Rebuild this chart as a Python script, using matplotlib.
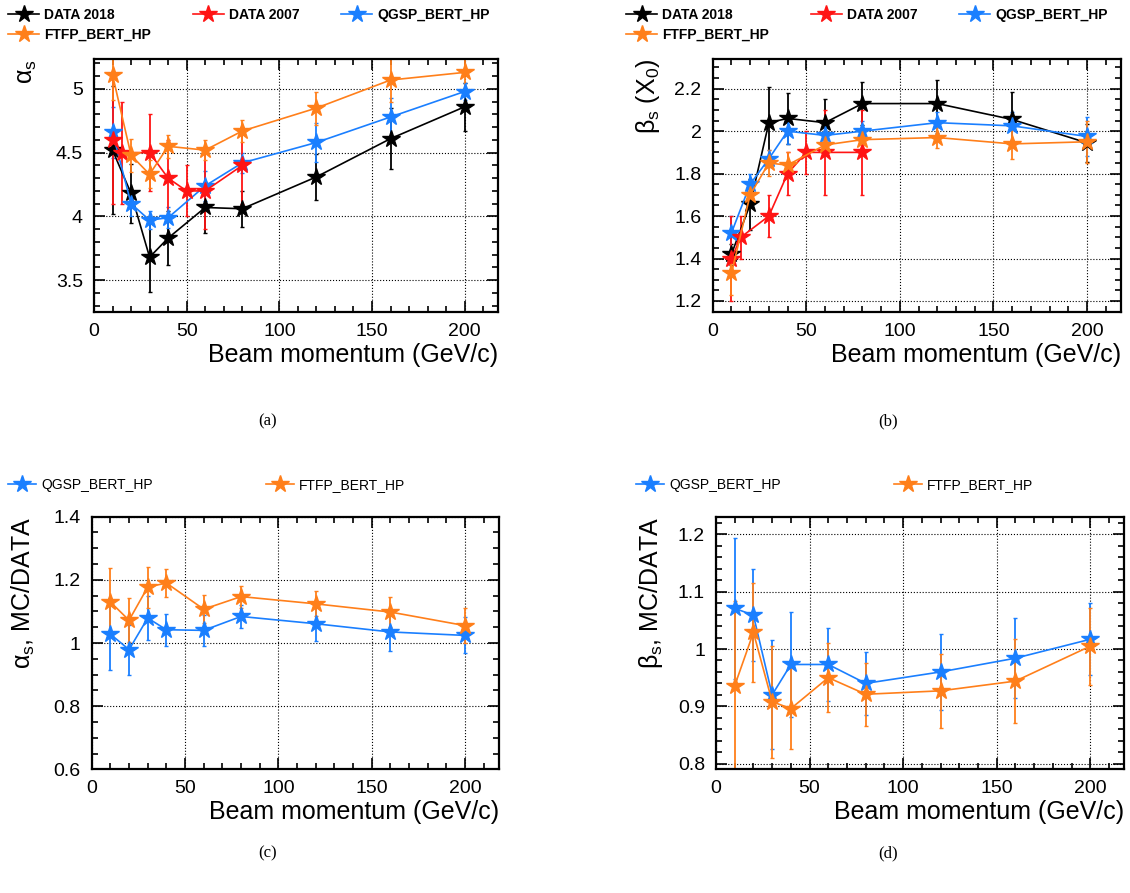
import matplotlib
matplotlib.use('Agg')
import matplotlib.pyplot as plt
from matplotlib.ticker import MultipleLocator, FuncFormatter

# DATA

P_MC = [10, 20, 30, 40, 60, 80, 120, 160, 200]
P_2007 = [10, 15, 30, 40, 50, 60, 80]

ALPHA_2018 = [4.52, 4.18, 3.68, 3.83, 4.07, 4.06, 4.31, 4.61, 4.86]
ALPHA_2018_ERR = [0.50, 0.23, 0.27, 0.21, 0.20, 0.14, 0.18, 0.24, 0.19]
ALPHA_2007 = [4.6, 4.5, 4.5, 4.3, 4.2, 4.2, 4.4]
ALPHA_2007_ERR = [0.5, 0.4, 0.3, 0.3, 0.2, 0.3, 0.3]
ALPHA_QGSP = [4.66, 4.10, 3.97, 3.99, 4.24, 4.42, 4.58, 4.78, 4.98]
ALPHA_QGSP_ERR = [0.20, 0.10, 0.07, 0.08, 0.12, 0.08, 0.15, 0.15, 0.07]
ALPHA_FTFP = [5.11, 4.48, 4.33, 4.55, 4.52, 4.67, 4.85, 5.07, 5.13]
ALPHA_FTFP_ERR = [0.20, 0.13, 0.11, 0.09, 0.08, 0.09, 0.13, 0.17, 0.12]

BETA_2018 = [1.42, 1.655, 2.04, 2.06, 2.04, 2.13, 2.13, 2.055, 1.945]
BETA_2018_ERR = [0.05, 0.12, 0.17, 0.12, 0.11, 0.10, 0.11, 0.13, 0.09]
BETA_2007 = [1.4, 1.5, 1.6, 1.8, 1.9, 1.9, 1.9]
BETA_2007_ERR = [0.2, 0.1, 0.1, 0.1, 0.1, 0.2, 0.2]
BETA_QGSP = [1.52, 1.75, 1.87, 2.0, 1.98, 2.0, 2.04, 2.025, 1.975]
BETA_QGSP_ERR = [0.08, 0.05, 0.04, 0.06, 0.05, 0.05, 0.05, 0.065, 0.09]
BETA_FTFP = [1.33, 1.70, 1.85, 1.84, 1.935, 1.96, 1.97, 1.94, 1.95]
BETA_FTFP_ERR = [0.10, 0.05, 0.06, 0.06, 0.04, 0.05, 0.05, 0.07, 0.10]

RA_QGSP = [1.028, 0.979, 1.079, 1.042, 1.04, 1.084, 1.061, 1.035, 1.024]
RA_QGSP_ERR = [0.115, 0.079, 0.07, 0.05, 0.05, 0.035, 0.055, 0.06, 0.057]
RA_FTFP = [1.13, 1.072, 1.177, 1.19, 1.107, 1.147, 1.124, 1.098, 1.055]
RA_FTFP_ERR = [0.108, 0.07, 0.065, 0.044, 0.045, 0.035, 0.04, 0.047, 0.055]

RB_QGSP = [1.071, 1.059, 0.92, 0.973, 0.973, 0.94, 0.96, 0.984, 1.017]
RB_QGSP_ERR = [0.123, 0.08, 0.095, 0.091, 0.063, 0.055, 0.066, 0.07, 0.063]
RB_FTFP = [0.936, 1.029, 0.908, 0.896, 0.95, 0.921, 0.927, 0.944, 1.005]
RB_FTFP_ERR = [0.147, 0.086, 0.098, 0.07, 0.06, 0.055, 0.065, 0.073, 0.067]

# STYLE

C_2018 = 'black'
C_2007 = '#ff1414'
C_QGSP = '#1a7fff'
C_FTFP = '#ff7f1a'
X_LIM = [0, 218]
TICK_FS = 14
LABEL_FS = 18

plt.rcParams['font.family'] = ['Liberation Sans', 'DejaVu Sans']
plt.rcParams['mathtext.fontset'] = 'custom'
plt.rcParams['mathtext.rm'] = 'Liberation Sans'
plt.rcParams['mathtext.it'] = 'Liberation Sans'

fig = plt.figure(figsize=(11.3, 8.93), dpi=100)

POS = {
    'a': [94/1130, 1-312/893, 404/1130, 253/893],
    'b': [712.7/1130, 1-312/893, 408/1130, 253/893],
    'c': [91.7/1130, 1-769.3/893, 407/1130, 252.6/893],
    'd': [716/1130, 1-769.3/893, 408/1130, 252.6/893],
}


def fmt(v, pos):
    return '%g' % round(v, 3)


def series(ax, x, y, err, color, label):
    c = ax.errorbar(x, y, yerr=err, color=color, marker='*', markersize=13,
                    linewidth=1.2, elinewidth=1.3, capsize=1.5, capthick=1.0)
    # legend handle: line + star only, no error bar
    c.lines[0].set_label(label)
    return c.lines[0]


def setup(ax, ylim, major, minor, ylabel, lab_x):
    ax.set_xlim(X_LIM)
    ax.set_ylim(ylim)
    ax.xaxis.set_major_locator(MultipleLocator(50))
    ax.xaxis.set_minor_locator(MultipleLocator(10))
    ax.yaxis.set_major_locator(MultipleLocator(major))
    ax.yaxis.set_minor_locator(MultipleLocator(minor))
    ax.yaxis.set_major_formatter(FuncFormatter(fmt))
    ax.tick_params(which='both', direction='in', top=True, right=True,
                   labelsize=TICK_FS, width=1.2)
    ax.tick_params(which='major', length=8, pad=8)
    ax.tick_params(which='minor', length=4)
    for s in ax.spines.values():
        s.set_linewidth(1.6)
    ax.grid(which='major', color='black', linestyle=':', linewidth=0.8)
    ax.set_axisbelow(True)
    ax.set_xlabel('Beam momentum (GeV/c)', fontsize=LABEL_FS, loc='right',
                  labelpad=2)
    ax.set_ylabel(ylabel, fontsize=LABEL_FS, loc='top')
    ax.yaxis.set_label_coords(lab_x, 1.0)


def top_legend(h, x0):
    # column-major fill -> order so rows read 2018, 2007, QGSP / FTFP
    h18, h07, hq, hf = h
    hs = [h18, hf, h07, hq]
    fig.legend(hs, [l.get_label() for l in hs], ncol=3, loc='upper left',
               bbox_to_anchor=(x0, 1.0), frameon=False,
               prop={'weight': 'bold', 'size': 10},
               handlelength=2.2, handletextpad=0.4, columnspacing=3.0,
               labelspacing=0.4, borderaxespad=0.2)


def bottom_legend(h, x0):
    fig.legend(h, [l.get_label() for l in h], ncol=2, loc='upper left',
               bbox_to_anchor=(x0, 1-470/893), frameon=False,
               prop={'size': 10}, handlelength=2.0, handletextpad=0.4,
               columnspacing=8.1, borderaxespad=0.2)


# (a)
ax = fig.add_axes(POS['a'])
h18 = series(ax, P_MC, ALPHA_2018, ALPHA_2018_ERR, C_2018, 'DATA 2018')
hq = series(ax, P_MC, ALPHA_QGSP, ALPHA_QGSP_ERR, C_QGSP, 'QGSP_BERT_HP')
h07 = series(ax, P_2007, ALPHA_2007, ALPHA_2007_ERR, C_2007, 'DATA 2007')
hf = series(ax, P_MC, ALPHA_FTFP, ALPHA_FTFP_ERR, C_FTFP, 'FTFP_BERT_HP')
setup(ax, [3.25, 5.235], 0.5, 0.1, r'$\alpha_{s}$', -0.135)
top_legend([h18, h07, hq, hf], 0.0)

# (b)
ax = fig.add_axes(POS['b'])
h18 = series(ax, P_MC, BETA_2018, BETA_2018_ERR, C_2018, 'DATA 2018')
hq = series(ax, P_MC, BETA_QGSP, BETA_QGSP_ERR, C_QGSP, 'QGSP_BERT_HP')
h07 = series(ax, P_2007, BETA_2007, BETA_2007_ERR, C_2007, 'DATA 2007')
hf = series(ax, P_MC, BETA_FTFP, BETA_FTFP_ERR, C_FTFP, 'FTFP_BERT_HP')
setup(ax, [1.148, 2.34], 0.2, 0.05, r'$\beta_{s}$ (X$_{0}$)', -0.125)
top_legend([h18, h07, hq, hf], 618/1130)

# (c)
ax = fig.add_axes(POS['c'])
h = [series(ax, P_MC, RA_QGSP, RA_QGSP_ERR, C_QGSP, 'QGSP_BERT_HP'),
     series(ax, P_MC, RA_FTFP, RA_FTFP_ERR, C_FTFP, 'FTFP_BERT_HP')]
setup(ax, [0.6, 1.4], 0.2, 0.05, r'$\alpha_{s}$, MC/DATA', -0.134)
bottom_legend(h, 0.0)

# (d)
ax = fig.add_axes(POS['d'])
h = [series(ax, P_MC, RB_QGSP, RB_QGSP_ERR, C_QGSP, 'QGSP_BERT_HP'),
     series(ax, P_MC, RB_FTFP, RB_FTFP_ERR, C_FTFP, 'FTFP_BERT_HP')]
setup(ax, [0.79, 1.231], 0.1, 0.02, r'$\beta_{s}$, MC/DATA', -0.125)
bottom_legend(h, 628/1130)

# sub-figure captions
for txt, x, y in [('(a)', 268, 421), ('(b)', 888, 421), ('(c)', 268, 853), ('(d)', 888, 853)]:
    fig.text(x/1130, 1-y/893, txt, ha='center', va='center',
             fontsize=12, family='Liberation Serif')

plt.savefig('out.png', dpi=100)
